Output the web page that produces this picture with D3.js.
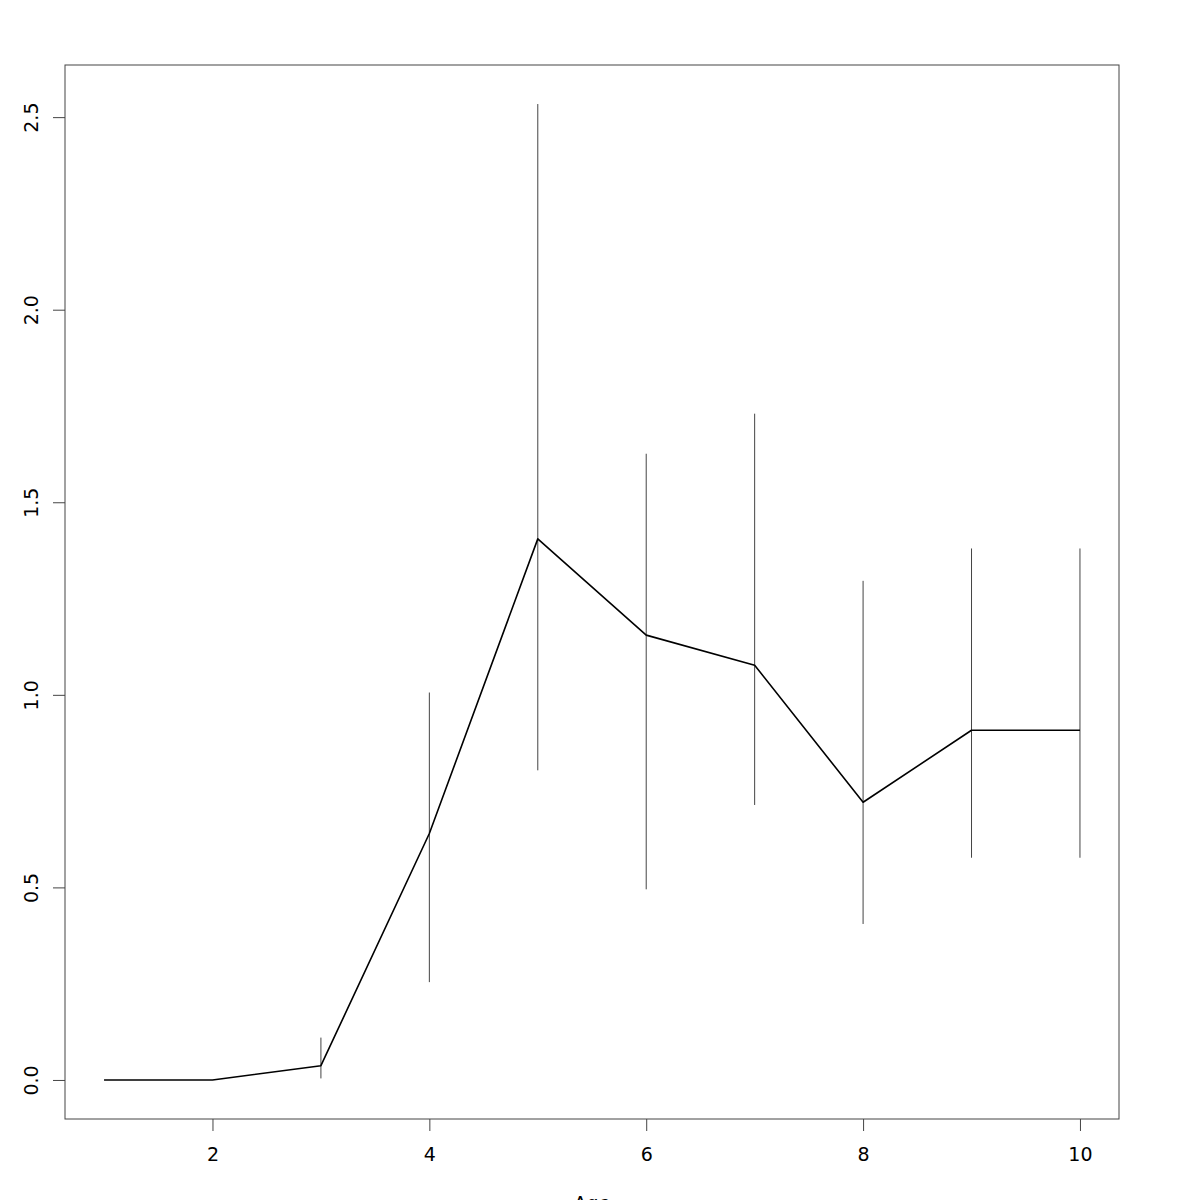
<!DOCTYPE html>
<html>
<head>
<meta charset="utf-8">
<script src="https://cdn.jsdelivr.net/npm/d3@7"></script>
<style>
  html, body { margin: 0; padding: 0; background: #fff; }
  svg { display: block; }
  text { font-family: "DejaVu Sans", sans-serif; }
</style>
</head>
<body>
<svg id="chart" width="1200" height="1200"></svg>
<script>
const ages  = [1, 2, 3, 4, 5, 6, 7, 8, 9, 10];
const means = [0, 0, 0.037, 0.640, 1.405, 1.155, 1.077, 0.721, 0.908, 0.908];
const lower = [null, null, 0.004, 0.254, 0.804, 0.495, 0.714, 0.405, 0.577, 0.577];
const upper = [null, null, 0.110, 1.006, 2.534, 1.626, 1.730, 1.296, 1.380, 1.380];
const xTicks = [2, 4, 6, 8, 10];
const yTicks = [0, 0.5, 1.0, 1.5, 2.0, 2.5];
const xLabel = "Age";

(function () {
const svg = d3.select("#chart");
const mLeft = 65, mRight = 1119, mTop = 65, mBottom = 1119;

// R-style 4% range extension
function extend(lo, hi) { const p = (hi - lo) * 0.04; return [lo - p, hi + p]; }
const xDom = extend(d3.min(ages), d3.max(ages));
const yDom = extend(Math.min(0, d3.min(lower.filter(v => v != null))), d3.max(upper.filter(v => v != null)));

const x = d3.scaleLinear().domain(xDom).range([mLeft, mRight]);
const y = d3.scaleLinear().domain(yDom).range([mBottom, mTop]);

// error bars
const bars = ages.map((a, i) => ({a, lo: lower[i], hi: upper[i]})).filter(d => d.lo != null);
svg.append("g").selectAll("line").data(bars).join("line")
  .attr("x1", d => x(d.a)).attr("x2", d => x(d.a))
  .attr("y1", d => y(d.lo)).attr("y2", d => y(d.hi))
  .attr("stroke", "#444").attr("stroke-width", 1);

// mean line
const line = d3.line().x((d, i) => x(ages[i])).y(d => y(d));
svg.append("path").datum(means)
  .attr("d", line).attr("fill", "none")
  .attr("stroke", "#000").attr("stroke-width", 1.6)
  .attr("stroke-linejoin", "round");

// box
svg.append("rect")
  .attr("x", mLeft).attr("y", mTop)
  .attr("width", mRight - mLeft).attr("height", mBottom - mTop)
  .attr("fill", "none").attr("stroke", "#444").attr("stroke-width", 1);

// x axis
const xAxis = svg.append("g").attr("transform", `translate(0,${mBottom})`)
  .call(d3.axisBottom(x).tickValues(xTicks).tickSize(12).tickPadding(17).tickFormat(d3.format("d")));
xAxis.select(".domain").remove();
xAxis.selectAll(".tick line").attr("stroke", "#444");
xAxis.selectAll(".tick text").attr("font-size", 19).attr("fill", "#000")
  .style("font-family", "'DejaVu Sans', sans-serif");

// y axis
const yAxis = svg.append("g").attr("transform", `translate(${mLeft},0)`)
  .call(d3.axisLeft(y).tickValues(yTicks).tickSize(12).tickFormat(d3.format(".1f")));
yAxis.select(".domain").remove();
yAxis.selectAll(".tick line").attr("stroke", "#444");
yAxis.selectAll(".tick text")
  .attr("transform", "rotate(-90)")
  .attr("x", 0).attr("y", -27).attr("dy", 0)
  .attr("text-anchor", "middle")
  .attr("font-size", 19).attr("fill", "#000")
  .style("font-family", "'DejaVu Sans', sans-serif");

// x label
svg.append("text")
  .attr("x", (mLeft + mRight) / 2).attr("y", 1210)
  .attr("text-anchor", "middle").attr("font-size", 19)
  .text(xLabel);
})();
</script>
</body>
</html>
